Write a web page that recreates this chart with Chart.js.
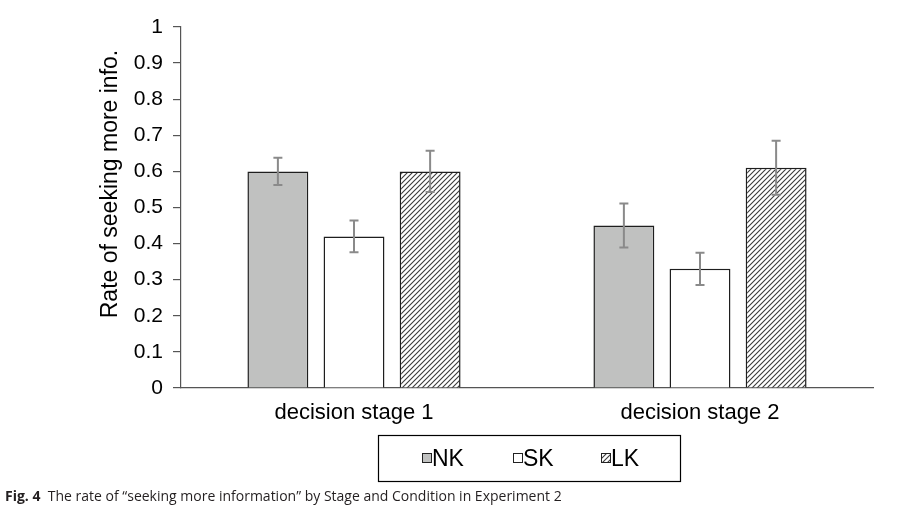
<!DOCTYPE html>
<html><head><meta charset="utf-8">
<script src="https://cdn.jsdelivr.net/npm/chart.js@4"></script>
<style>
html,body{margin:0;padding:0;background:#fff;}
#wrap{position:relative;width:903px;height:487px;}
#cap{position:absolute;left:5px;top:489px;font-family:"Open Sans";font-size:14px;line-height:14px;color:#231f20;white-space:nowrap;}
</style></head><body>
<div id="wrap"><canvas id="c" width="903" height="487"></canvas></div>
<div id="cap"><b>Fig. 4</b>&nbsp; The rate of “seeking more information” by Stage and Condition in Experiment 2</div>
<script>
const categories = ["decision stage 1", "decision stage 2"];
const seriesNames = ["NK", "SK", "LK"];
const nkValues = [0.60, 0.45];
const nkErrors = [0.038, 0.061];
const skValues = [0.42, 0.33];
const skErrors = [0.044, 0.045];
const lkValues = [0.60, 0.61];
const lkErrors = [0.057, 0.075];
const yTicks = [0, 0.1, 0.2, 0.3, 0.4, 0.5, 0.6, 0.7, 0.8, 0.9, 1];
const yTitle = "Rate of seeking more info.";

const FONT = "'Liberation Sans', Arial, sans-serif";

function hatch() {
  const s = 5;
  const cv = document.createElement('canvas');
  cv.width = s; cv.height = s;
  const g = cv.getContext('2d');
  g.fillStyle = '#fff'; g.fillRect(0, 0, s, s);
  g.strokeStyle = '#3a3a3a'; g.lineWidth = 1.1;
  g.beginPath();
  g.moveTo(-1, s + 1); g.lineTo(s + 1, -1);
  g.moveTo(-1, 1); g.lineTo(1, -1);
  g.moveTo(s - 1, s + 1); g.lineTo(s + 1, s - 1);
  g.stroke();
  return g.createPattern(cv, 'repeat');
}
const hatchPattern = hatch();

const errorsByDataset = [nkErrors, skErrors, lkErrors];

const errorBarPlugin = {
  id: 'errorBars',
  afterDatasetsDraw(chart) {
    const ctx = chart.ctx;
    const y = chart.scales.y;
    ctx.save();
    ctx.strokeStyle = '#8a8a8a';
    ctx.lineWidth = 2;
    chart.data.datasets.forEach((ds, di) => {
      const meta = chart.getDatasetMeta(di);
      meta.data.forEach((bar, i) => {
        const v = ds.data[i], e = errorsByDataset[di][i];
        const x = bar.x;
        const yt = y.getPixelForValue(v + e), yb = y.getPixelForValue(v - e);
        ctx.beginPath();
        ctx.moveTo(x, yt); ctx.lineTo(x, yb);
        ctx.moveTo(x - 4.5, yt); ctx.lineTo(x + 4.5, yt);
        ctx.moveTo(x - 4.5, yb); ctx.lineTo(x + 4.5, yb);
        ctx.stroke();
      });
    });
    ctx.restore();
  }
};

const extrasPlugin = {
  id: 'extras',
  afterDraw(chart) {
    const ctx = chart.ctx;
    ctx.save();
    // y title
    ctx.fillStyle = '#000';
    ctx.font = "23px " + FONT;
    ctx.textAlign = 'center';
    ctx.textBaseline = 'middle';
    ctx.translate(111, 184);
    ctx.rotate(-Math.PI / 2);
    ctx.fillText(yTitle, 0, 0);
    ctx.restore();

    // legend box
    ctx.save();
    const bx = 378.5, by = 435.5, bw = 302, bh = 46;
    ctx.strokeStyle = '#000'; ctx.lineWidth = 1.2;
    ctx.strokeRect(bx, by, bw, bh);
    const starts = [422, 513, 601];
    ctx.font = "23px " + FONT;
    ctx.textBaseline = 'middle';
    ctx.textAlign = 'left';
    chart.data.datasets.forEach((ds, i) => {
      const sx = starts[i];
      ctx.fillStyle = ds.backgroundColor;
      ctx.fillRect(sx + 0.5, 453.5, 9, 9);
      ctx.strokeStyle = '#222'; ctx.lineWidth = 1;
      ctx.strokeRect(sx + 0.5, 453.5, 9, 9);
      ctx.fillStyle = '#000';
      ctx.fillText(ds.label, sx + 10, 459.5);
    });
    ctx.restore();
  }
};

const palette = ['#c0c1c0', '#ffffff', hatchPattern];
const valueSets = [nkValues, skValues, lkValues];

new Chart(document.getElementById('c'), {
  type: 'bar',
  data: {
    labels: categories,
    datasets: seriesNames.map((n, i) => ({
      label: n,
      data: valueSets[i],
      backgroundColor: palette[i],
      borderColor: '#1e1e1e',
      borderWidth: 1.5,
      barPercentage: 0.8,
      categoryPercentage: 0.66
    }))
  },
  options: {
    responsive: false,
    animation: false,
    devicePixelRatio: 1,
    layout: { padding: { top: 27, right: 30, bottom: 40, left: 0 } },
    plugins: { legend: { display: false }, tooltip: { enabled: false } },
    scales: {
      x: {
        grid: { display: false, drawTicks: false },
        border: { display: true, color: '#555', width: 1.2 },
        ticks: { color: '#000', font: { family: FONT, size: 22 }, padding: 12 },
        afterFit(s) { s.height = 59; }
      },
      y: {
        min: 0, max: 1,
        afterBuildTicks(s) { s.ticks = yTicks.map(v => ({ value: v })); },
        grid: { display: true, drawOnChartArea: false, drawTicks: true, tickLength: 8, color: '#555', lineWidth: 1.2 },
        border: { display: true, color: '#555', width: 1.2 },
        ticks: { color: '#000', font: { family: FONT, size: 21 }, padding: 10,
          callback: v => String(Math.round(v * 10) / 10) },
        afterFit(s) { s.width = 181; }
      }
    }
  },
  plugins: [errorBarPlugin, extrasPlugin]
});
</script>
</body></html>
